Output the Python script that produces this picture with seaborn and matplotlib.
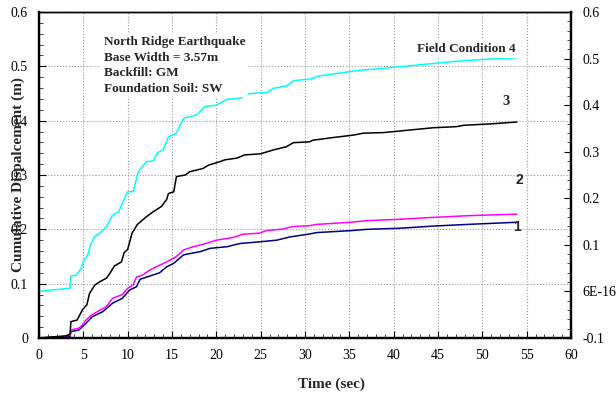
import numpy as np
import pandas as pd
import matplotlib
matplotlib.use("Agg")
import matplotlib.pyplot as plt
from matplotlib.ticker import MultipleLocator, FixedLocator, FixedFormatter
import seaborn as sns

# ─── DATA ─────────────────────────────────────────────────
# Field condition 1 (navy) - left axis
t1 = [0, 3.5, 3.6, 4.5, 5.3, 6.0, 7.2, 8.3, 9.4, 10.2, 11.0, 11.4, 12.5, 13.6, 14.4,
      15.2, 16.3, 18.2, 19.3, 21.2, 22.7, 24.9, 26.8, 28.3, 30.5, 31.3, 35.1, 37.0,
      40.7, 44.5, 48.3, 53.9]
d1 = [0, 0.0025, 0.0116, 0.0147, 0.027, 0.039, 0.0485, 0.064, 0.073, 0.088, 0.0944,
      0.108, 0.114, 0.120, 0.131, 0.1375, 0.153, 0.159, 0.165, 0.168, 0.174, 0.177,
      0.180, 0.186, 0.1914, 0.194, 0.1975, 0.200, 0.202, 0.206, 0.209, 0.213]

# Field condition 2 (magenta) - left axis
t2 = [0, 2.3, 3.5, 3.6, 4.5, 4.9, 5.3, 5.9, 6.9, 7.6, 8.3, 9.4, 10.0, 10.6, 11.0,
      11.7, 12.5, 13.2, 14.4, 15.5, 16.3, 17.4, 18.5, 20.0, 21.9, 23.0, 24.9, 25.6,
      27.5, 28.6, 30.5, 31.3, 35.1, 37.0, 40.7, 44.5, 48.3, 53.9]
d2 = [0, 0.001, 0.0055, 0.0147, 0.018, 0.024, 0.033, 0.042, 0.0515, 0.0576, 0.073,
      0.080, 0.0915, 0.0975, 0.112, 0.116, 0.125, 0.131, 0.140, 0.150, 0.162, 0.168,
      0.1725, 0.180, 0.185, 0.191, 0.193, 0.1975, 0.2006, 0.205, 0.2067, 0.209,
      0.213, 0.216, 0.2185, 0.222, 0.225, 0.228]

# Field condition 3 (black) - left axis
t3 = [0, 3.1, 3.5, 3.6, 4.3, 4.9, 5.4, 5.7, 6.3, 6.9, 7.6, 8.0, 8.5, 9.3, 9.6, 10.0,
      10.5, 11.1, 12.1, 12.9, 13.8, 14.4, 14.6, 15.2, 15.5, 16.5, 17.0, 18.5, 19.1,
      20.4, 21.0, 22.3, 23.2, 25.0, 26.4, 27.9, 28.7, 30.5, 30.9, 33.2, 35.5, 36.6,
      38.8, 40.7, 44.5, 47.1, 47.9, 50.9, 53.9]
d3 = [0, 0.004, 0.007, 0.030, 0.033, 0.052, 0.061, 0.082, 0.0975, 0.104, 0.110, 0.119,
      0.1325, 0.140, 0.157, 0.163, 0.193, 0.209, 0.223, 0.2325, 0.242, 0.255, 0.266,
      0.269, 0.297, 0.300, 0.306, 0.312, 0.318, 0.3245, 0.328, 0.331, 0.337, 0.339,
      0.346, 0.352, 0.3595, 0.361, 0.364, 0.369, 0.3735, 0.377, 0.378, 0.381, 0.387,
      0.389, 0.3915, 0.394, 0.3975]

# Field condition 4 (cyan) - right axis
t4 = [0, 3.5, 3.6, 4.2, 4.8, 5.0, 5.5, 5.8, 6.3, 6.9, 7.6, 8.3, 9.0, 9.4, 10.0, 10.6,
      11.2, 12.1, 12.9, 13.3, 14.0, 14.6, 15.5, 16.3, 17.8, 18.7, 20.0, 21.2, 22.7,
      23.8, 25.7, 26.4, 27.9, 28.7, 30.5, 31.7, 35.1, 36.2, 38.8, 40.7, 44.8, 47.5,
      50.1, 52.7, 54.0]
d4 = [0, 0.007, 0.033, 0.035, 0.050, 0.064, 0.078, 0.100, 0.118, 0.126, 0.139, 0.164,
      0.171, 0.190, 0.214, 0.214, 0.257, 0.279, 0.280, 0.297, 0.304, 0.332, 0.340,
      0.372, 0.379, 0.397, 0.400, 0.4125, 0.415, 0.425, 0.427, 0.436, 0.441, 0.4525,
      0.456, 0.463, 0.472, 0.475, 0.479, 0.4825, 0.490, 0.495, 0.498, 0.5006, 0.502]

right_ticks = [-0.1, 0.0, 0.1, 0.2, 0.3, 0.4, 0.5, 0.6]
right_tick_labels = ["-0.1", "6E-16", "0.1", "0.2", "0.3", "0.4", "0.5", "0.6"]

info_text = ("North Ridge Earthquake\nBase Width = 3.57m\n"
             "Backfill: GM\nFoundation Soil: SW")

# ─── STYLE ────────────────────────────────────────────────
sns.set_style("ticks")
plt.rcParams['font.family'] = ['Liberation Serif', 'DejaVu Serif']

fig = plt.figure(figsize=(6.16, 3.96), dpi=100)
ax = fig.add_axes([0.0633, 0.1465, 0.8636, 0.8232])
ax2 = ax.twinx()

# ─── LINES ────────────────────────────────────────────────
sns.lineplot(x=t1, y=d1, ax=ax, color='#000080', lw=1.1, estimator=None, sort=False)
sns.lineplot(x=t2, y=d2, ax=ax, color='#FF00FF', lw=1.1, estimator=None, sort=False)
sns.lineplot(x=t3, y=d3, ax=ax, color='black', lw=1.1, estimator=None, sort=False)
sns.lineplot(x=t4, y=d4, ax=ax2, color='#00FFFF', lw=1.1, estimator=None, sort=False)

# ─── AXES ─────────────────────────────────────────────────
ax.set_xlim(0, 60)
ax.set_ylim(0, 0.6)
ax2.set_ylim(-0.1, 0.6)

ax.xaxis.set_major_locator(MultipleLocator(5))
ax.xaxis.set_minor_locator(MultipleLocator(1))
ax.yaxis.set_major_locator(MultipleLocator(0.1))
ax.yaxis.set_minor_locator(MultipleLocator(0.02))
ax.yaxis.set_major_formatter(plt.FuncFormatter(lambda v, p: f"{v:g}"))
ax2.yaxis.set_major_locator(FixedLocator(right_ticks))
ax2.yaxis.set_major_formatter(FixedFormatter(right_tick_labels))
ax2.yaxis.set_minor_locator(MultipleLocator(0.02))

for a in (ax, ax2):
    a.tick_params(which='major', direction='in', length=5, width=0.8,
                  labelsize=10, pad=8, colors='black')
    a.tick_params(which='minor', direction='in', length=3, width=0.6)
    for side, sp in a.spines.items():
        sp.set_linewidth(1.0 if side == 'top' else 1.6)
        sp.set_color('black')
ax.tick_params(axis='x', which='both', top=False)
ax.tick_params(axis='y', which='both', right=False)
ax2.tick_params(axis='y', which='both', left=False)

ax.grid(True, which='major', color='#999999', linestyle=':', linewidth=0.8)
ax2.grid(False)

ax.set_xlabel("Time (sec)", fontsize=11, fontweight='bold')
ax.xaxis.set_label_coords(0.549, -0.12)
ax.set_ylabel("Cumulative Dispalcement (m)", fontsize=11, fontweight='bold', va='center')
ax.yaxis.set_label_coords(-0.039, 0.5)
ax2.set_ylabel("")

# ─── ANNOTATIONS ──────────────────────────────────────────
box = dict(facecolor='white', edgecolor='none', pad=2)
ax2.text(0.122, 0.925, info_text, transform=ax.transAxes, ha='left', va='top',
         fontsize=9.5, fontweight='bold', bbox=box, zorder=10, linespacing=1.38)
ax2.text(42.6, 0.532, "Field Condition 4", transform=ax.transData, ha='left',
         va='center', fontsize=9.5, fontweight='bold', bbox=box, zorder=10)
ax2.text(52.7, 0.435, "3", transform=ax.transData, ha='center', va='center',
         fontsize=10.5, fontweight='bold', zorder=10)
ax2.text(54.2, 0.291, "2", transform=ax.transData, ha='center', va='center',
         fontsize=10, fontweight='bold', family=['Liberation Sans'], zorder=10)
ax2.text(53.9, 0.204, "1", transform=ax.transData, ha='center', va='center',
         fontsize=10, fontweight='bold', family=['Liberation Sans'], zorder=10)

plt.savefig('out.png', dpi=100)
plt.close()
